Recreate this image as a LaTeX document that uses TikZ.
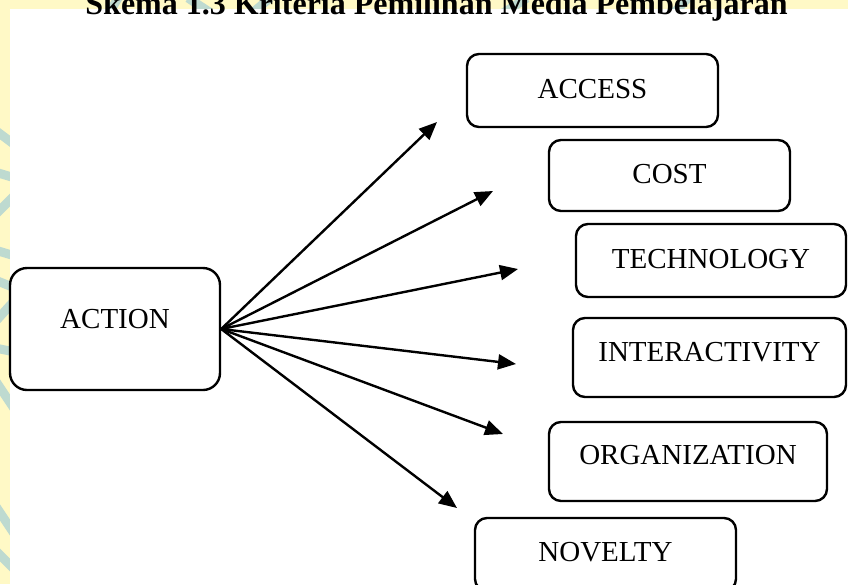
\documentclass[tikz,border=0pt]{standalone}
\usepackage{fontspec}
\setmainfont{Liberation Serif}
\usetikzlibrary{arrows.meta}
\definecolor{paper}{RGB}{255,249,198}
\definecolor{wmark}{RGB}{190,218,208}
\tikzstyle{actionbox} = [rectangle, rounded corners=17pt, minimum width=210pt, minimum height=122pt, draw=black, line width=2.4pt, inner sep=2pt, text height=19pt, text depth=20pt]
\tikzstyle{crit} = [rectangle, rounded corners=12pt, minimum height=73pt, draw=black, line width=2.4pt, inner sep=2pt, text height=19pt, text depth=3pt]
\tikzstyle{arrow} = [line width=2.4pt,-{Triangle[length=18pt,width=15pt]}]
\tikzstyle{stroke} = [wmark, line width=9pt]

\begin{document}
\begin{tikzpicture}[x=1pt, y=-1pt, font=\fontsize{29}{34}\selectfont]
\useasboundingbox (0,0) rectangle (848,584);
%page background with watermark
\fill[paper] (0,0) rectangle (848,584);
\draw[stroke] (-5,130) -- (15,145);
\draw[stroke] (-5,172) -- (15,178);
\draw[stroke] (-5,215) -- (15,195);
\draw[stroke] (-5,250) -- (15,256);
\draw[stroke] (-5,280) -- (15,288);
\draw[stroke] (-5,322) -- (15,300);
\draw[stroke] (-5,348) -- (15,352);
\draw[stroke] (-5,380) -- (15,410);
\draw[stroke] (-5,505) -- (15,535);
\draw[stroke] (-5,550) -- (15,570);
\draw[stroke] (108,15) -- (118,-2);
\draw[stroke] (188,-2) -- (214,15);
\draw[stroke] (250,15) -- (270,-2);
\draw[stroke] (500,15) -- (527,-2);
\draw[stroke] (672,15) -- (688,-2);
\fill[white] (10,9) rectangle (848,584);
% title runs over the top edge as in the scan
\node(title) at (436.5,14)[anchor=base, font=\fontsize{32}{36}\selectfont\bfseries]{Skema 1.3 Kriteria Pemilihan Media Pembelajaran};

%boxes
\node(action) at (115,329)[actionbox]{ACTION};
\node(access) at (592.5,90.5)[crit, minimum width=251pt]{ACCESS};
\node(cost) at (669.5,175.5)[crit, minimum width=241pt, minimum height=71pt]{COST};
\node(tech) at (711,260.5)[crit, minimum width=270pt]{TECHNOLOGY};
\node(inter) at (709.5,357.5)[crit, minimum width=273pt, minimum height=79pt, text depth=11pt]{INTERACTIVITY};
\node(org) at (688,461.5)[crit, minimum width=278pt, minimum height=79pt, text depth=13pt]{ORGANIZATION};
\node(nov) at (605.5,554.5)[crit, minimum width=261pt, text depth=5pt]{NOVELTY};

%arrow ends
\coordinate(tAccess) at (437,122);
\coordinate(tCost) at (493,191);
\coordinate(tTech) at (518,269);
\coordinate(tInter) at (516,364);
\coordinate(tOrg) at (503,434);
\coordinate(tNov) at (457,508);

%arrows
\draw[arrow](action.east)--(tAccess);
\draw[arrow](action.east)--(tCost);
\draw[arrow](action.east)--(tTech);
\draw[arrow](action.east)--(tInter);
\draw[arrow](action.east)--(tOrg);
\draw[arrow](action.east)--(tNov);
\end{tikzpicture}
\end{document}
